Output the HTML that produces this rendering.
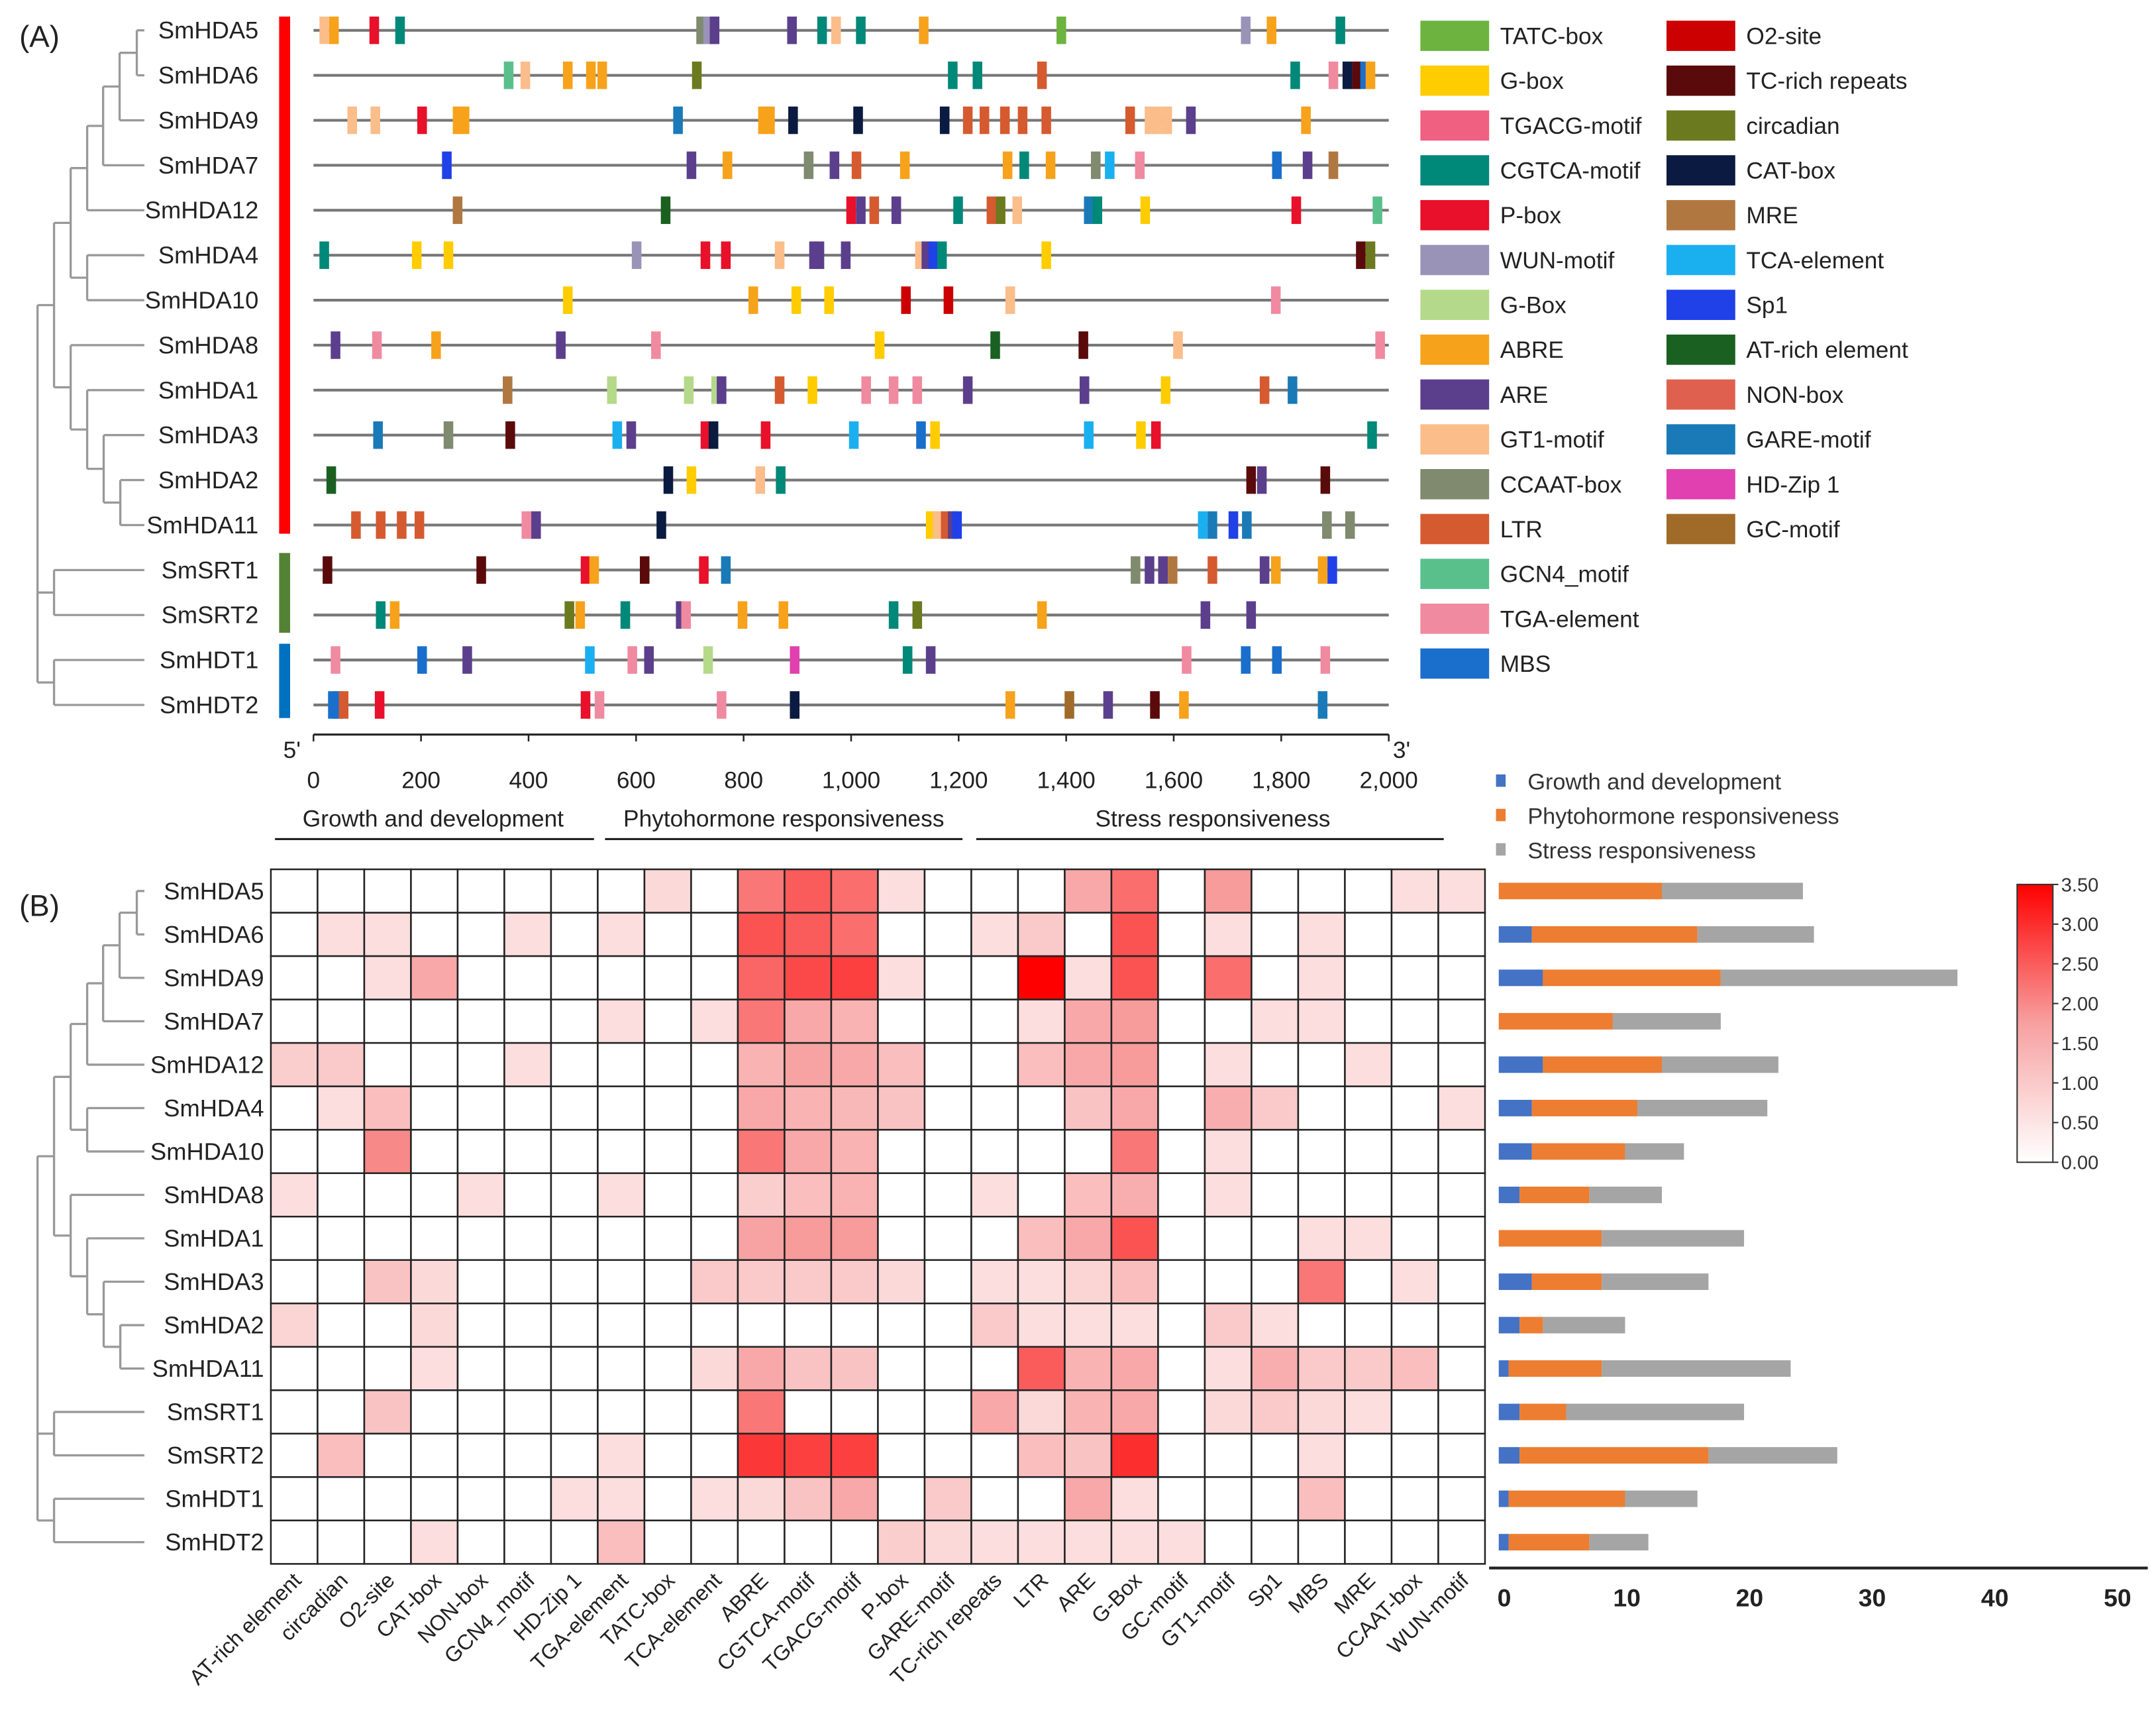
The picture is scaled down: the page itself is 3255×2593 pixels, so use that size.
<!DOCTYPE html>
<html><head><meta charset="utf-8"><style>
html,body{margin:0;padding:0;background:#fff}
svg{display:block;font-family:"Liberation Sans",Arial,sans-serif}
</style></head><body>
<svg id="root" xmlns="http://www.w3.org/2000/svg" width="3255" height="2593" viewBox="0 0 1568 1249">
<rect width="1568" height="1249" fill="#fff"/>
<text x="14" y="34" font-size="22" fill="#222">(A)</text>
<text x="14" y="666" font-size="22" fill="#222">(B)</text>
<g id="gA"></g>
<g id="gB"></g>
</svg>
<script>
const genes = ["SmHDA5","SmHDA6","SmHDA9","SmHDA7","SmHDA12","SmHDA4","SmHDA10","SmHDA8","SmHDA1","SmHDA3","SmHDA2","SmHDA11","SmSRT1","SmSRT2","SmHDT1","SmHDT2"];
const motifNames1 = ["TATC-box","G-box","TGACG-motif","CGTCA-motif","P-box","WUN-motif","G-Box","ABRE","ARE","GT1-motif","CCAAT-box","LTR","GCN4_motif","TGA-element","MBS"];
const motifColors1 = ["#6db33f","#ffcc00","#f06080","#008878","#e8102a","#9a93b8","#b5d98a","#f7a21b","#5b3f8c","#fbbd8a","#7f8a6e","#d65a30","#59c08c","#f08aa0","#1a6fcc"];
const motifNames2 = ["O2-site","TC-rich repeats","circadian","CAT-box","MRE","TCA-element","Sp1","AT-rich element","NON-box","GARE-motif","HD-Zip 1","GC-motif"];
const motifColors2 = ["#cc0000","#5a0a0a","#6b7a1e","#0a1a40","#b07840","#1ab0f0","#2040e8","#1a6020","#e06050","#1a7ab8","#e040b0","#a06a28"];
const C = {};
motifNames1.forEach((n,i)=>C[n]=motifColors1[i]);
motifNames2.forEach((n,i)=>C[n]=motifColors2[i]);
const motifs = [
 [[20,"GT1-motif"],[38,"ABRE"],[113,"P-box"],[161,"CGTCA-motif"],[721,"CCAAT-box"],[734,"WUN-motif"],[746,"ARE"],[890,"ARE"],[946,"CGTCA-motif"],[972,"GT1-motif"],[1018,"CGTCA-motif"],[1135,"ABRE"],[1391,"TATC-box"],[1734,"WUN-motif"],[1782,"ABRE"],[1910,"CGTCA-motif"]],
 [[363,"GCN4_motif"],[394,"GT1-motif"],[473,"ABRE"],[516,"ABRE"],[537,"ABRE"],[713,"circadian"],[1189,"CGTCA-motif"],[1235,"CGTCA-motif"],[1355,"LTR"],[1826,"CGTCA-motif"],[1897,"TGA-element"],[1923,"CAT-box"],[1941,"TC-rich repeats"],[1956,"MBS"],[1966,"ABRE"]],
 [[72,"GT1-motif"],[115,"GT1-motif"],[202,"P-box"],[268,"ABRE"],[281,"ABRE"],[678,"GARE-motif"],[836,"ABRE"],[849,"ABRE"],[892,"CAT-box"],[1013,"CAT-box"],[1174,"CAT-box"],[1217,"LTR"],[1248,"LTR"],[1286,"LTR"],[1319,"LTR"],[1363,"LTR"],[1519,"LTR"],[1555,"GT1-motif"],[1570,"GT1-motif"],[1588,"GT1-motif"],[1632,"ARE"],[1846,"ABRE"]],
 [[248,"Sp1"],[703,"ARE"],[770,"ABRE"],[921,"CCAAT-box"],[969,"ARE"],[1010,"LTR"],[1100,"ABRE"],[1291,"ABRE"],[1322,"CGTCA-motif"],[1371,"ABRE"],[1455,"CCAAT-box"],[1481,"TCA-element"],[1537,"TGA-element"],[1792,"MBS"],[1849,"ARE"],[1897,"MRE"]],
 [[268,"MRE"],[655,"AT-rich element"],[1000,"P-box"],[1018,"ARE"],[1043,"LTR"],[1084,"ARE"],[1199,"CGTCA-motif"],[1261,"LTR"],[1278,"circadian"],[1309,"GT1-motif"],[1442,"GARE-motif"],[1458,"CGTCA-motif"],[1547,"G-box"],[1828,"P-box"],[1979,"GCN4_motif"]],
 [[20,"CGTCA-motif"],[192,"G-box"],[251,"G-box"],[601,"WUN-motif"],[729,"P-box"],[767,"P-box"],[867,"GT1-motif"],[931,"ARE"],[941,"ARE"],[990,"ARE"],[1128,"GT1-motif"],[1140,"ARE"],[1153,"Sp1"],[1169,"CGTCA-motif"],[1363,"G-box"],[1948,"TC-rich repeats"],[1966,"circadian"]],
 [[473,"G-box"],[818,"ABRE"],[898,"G-box"],[959,"G-box"],[1102,"O2-site"],[1181,"O2-site"],[1296,"GT1-motif"],[1790,"TGA-element"]],
 [[41,"ARE"],[118,"TGA-element"],[228,"ABRE"],[460,"ARE"],[637,"TGA-element"],[1053,"G-box"],[1268,"AT-rich element"],[1432,"TC-rich repeats"],[1608,"GT1-motif"],[1984,"TGA-element"]],
 [[361,"MRE"],[555,"G-Box"],[698,"G-Box"],[749,"G-Box"],[759,"ARE"],[867,"LTR"],[928,"G-box"],[1028,"TGA-element"],[1079,"TGA-element"],[1123,"TGA-element"],[1217,"ARE"],[1434,"ARE"],[1585,"G-box"],[1769,"LTR"],[1821,"GARE-motif"]],
 [[120,"GARE-motif"],[251,"CCAAT-box"],[366,"TC-rich repeats"],[565,"TCA-element"],[591,"ARE"],[729,"P-box"],[744,"CAT-box"],[841,"P-box"],[1005,"TCA-element"],[1130,"MBS"],[1156,"G-box"],[1442,"TCA-element"],[1539,"G-box"],[1567,"P-box"],[1969,"CGTCA-motif"]],
 [[33,"AT-rich element"],[660,"CAT-box"],[703,"G-box"],[831,"GT1-motif"],[869,"CGTCA-motif"],[1744,"TC-rich repeats"],[1764,"ARE"],[1882,"TC-rich repeats"]],
 [[79,"LTR"],[125,"LTR"],[164,"LTR"],[197,"LTR"],[396,"TGA-element"],[414,"ARE"],[647,"CAT-box"],[1148,"G-box"],[1161,"GT1-motif"],[1176,"LTR"],[1189,"ARE"],[1197,"Sp1"],[1654,"TCA-element"],[1672,"GARE-motif"],[1711,"Sp1"],[1736,"GARE-motif"],[1885,"CCAAT-box"],[1928,"CCAAT-box"]],
 [[26,"TC-rich repeats"],[312,"TC-rich repeats"],[506,"P-box"],[522,"ABRE"],[616,"TC-rich repeats"],[726,"P-box"],[767,"GARE-motif"],[1529,"CCAAT-box"],[1555,"ARE"],[1580,"ARE"],[1598,"MRE"],[1672,"LTR"],[1769,"ARE"],[1790,"ABRE"],[1877,"ABRE"],[1895,"Sp1"]],
 [[125,"CGTCA-motif"],[151,"ABRE"],[476,"circadian"],[496,"ABRE"],[580,"CGTCA-motif"],[683,"ARE"],[693,"TGA-element"],[798,"ABRE"],[874,"ABRE"],[1079,"CGTCA-motif"],[1123,"circadian"],[1355,"ABRE"],[1659,"ARE"],[1744,"ARE"]],
 [[41,"TGA-element"],[202,"MBS"],[286,"ARE"],[514,"TCA-element"],[593,"TGA-element"],[624,"ARE"],[734,"G-Box"],[895,"HD-Zip 1"],[1105,"CGTCA-motif"],[1148,"ARE"],[1624,"TGA-element"],[1734,"MBS"],[1792,"MBS"],[1882,"TGA-element"]],
 [[36,"MBS"],[46,"MBS"],[56,"LTR"],[123,"P-box"],[506,"P-box"],[532,"TGA-element"],[759,"TGA-element"],[895,"CAT-box"],[1296,"ABRE"],[1406,"GC-motif"],[1478,"ARE"],[1565,"TC-rich repeats"],[1619,"ABRE"],[1877,"GARE-motif"]]
];
const xTicks = [0,200,400,600,800,1000,1200,1400,1600,1800,2000];
const xTickLabels = ["0","200","400","600","800","1,000","1,200","1,400","1,600","1,800","2,000"];

const hmCols = ["AT-rich element","circadian","O2-site","CAT-box","NON-box","GCN4_motif","HD-Zip 1","TGA-element","TATC-box","TCA-element","ABRE","CGTCA-motif","TGACG-motif","P-box","GARE-motif","TC-rich repeats","LTR","ARE","G-Box","GC-motif","GT1-motif","Sp1","MBS","MRE","CCAAT-box","WUN-motif"];
const hmVals = [
[0,0,0,0,0,0,0,0,0.7,0,2.2,2.5,2.3,0.6,0,0,0,1.6,2.3,0,1.8,0,0,0,0.6,0.6],
[0,0.6,0.6,0,0,0.6,0,0.6,0,0,2.6,2.5,2.3,0,0,0.6,1,0,2.6,0,0.6,0,0.6,0,0,0],
[0,0,0.6,1.6,0,0,0,0,0,0,2.4,2.7,2.8,0.6,0,0,3.5,0.6,2.6,0,2.3,0,0.6,0,0,0],
[0,0,0,0,0,0,0,0.6,0,0.6,2.2,1.6,1.4,0,0,0,0.6,1.6,1.8,0,0,0.6,0.6,0,0,0],
[0.9,1.0,0,0,0,0.6,0,0,0,0,1.4,1.7,1.6,1.2,0,0,1.2,1.6,1.8,0,0.6,0,0,0.6,0,0],
[0,0.6,1.2,0,0,0,0,0,0,0,1.6,1.4,1.3,1.1,0,0,0,1.1,1.6,0,1.5,1.0,0,0,0,0.6],
[0,0,2.0,0,0,0,0,0,0,0,2.2,1.6,1.4,0,0,0,0,0,2.2,0,0.6,0,0,0,0,0],
[0.6,0,0,0,0.6,0,0,0.6,0,0,0.9,1.2,1.4,0,0,0.6,0,1.2,1.5,0,0.6,0,0,0,0,0],
[0,0,0,0,0,0,0,0,0,0,1.7,1.8,1.8,0,0,0,1.2,1.6,2.6,0,0,0,0.6,0.6,0,0],
[0,0,1.1,0.7,0,0,0,0,0,1.0,1.0,1.0,1.0,0.7,0,0.6,0.6,0.8,1.2,0,0,0,2.2,0,0.6,0],
[0.8,0,0,0.7,0,0,0,0,0,0,0,0,0,0,0,1.0,0.6,0.6,0.6,0,1.0,0.6,0,0,0,0],
[0,0,0,0.6,0,0,0,0,0,0.7,1.6,1.1,1.1,0,0,0,2.5,1.4,1.6,0,0.6,1.5,1.0,1.0,1.2,0],
[0,0,1.1,0,0,0,0,0,0,0,2.2,0,0,0,0,1.6,0.7,1.4,1.6,0,0.7,1.0,0.7,0.6,0,0],
[0,1.2,0,0,0,0,0,0.6,0,0,2.9,2.8,2.8,0,0,0,1.2,1.1,3.0,0,0,0,0.6,0,0,0],
[0,0,0,0,0,0,0.6,0.6,0,0.6,0.7,1.1,1.6,0,1.0,0,0,1.6,0.6,0,0,0,1.2,0,0,0],
[0,0,0,0.6,0,0,0,1.2,0,0,0,0,0,0.9,0.7,0.6,0.6,0.6,0.6,0.6,0,0,0,0,0,0]];
const growth = [0,2.7,3.6,0,3.6,2.7,2.7,1.7,0,2.7,1.7,0.8,1.7,1.7,0.8,0.8];
const phyto = [13.3,13.5,14.5,9.3,9.7,8.6,7.6,5.7,8.4,5.7,1.9,7.6,3.8,15.4,9.5,6.6];
const stress = [11.5,9.5,19.3,8.8,9.5,10.6,4.8,5.9,11.6,8.7,6.7,15.4,14.5,10.5,5.9,4.8];
const barTicks = [0,10,20,30,40,50];
const scaleTicks = [0,0.5,1,1.5,2,2.5,3,3.5];

const NS="http://www.w3.org/2000/svg";
function mk(parent,tag,attrs,txt){const e=document.createElementNS(NS,tag);for(const k in attrs)e.setAttribute(k,attrs[k]);if(txt!==undefined)e.textContent=txt;parent.appendChild(e);return e;}
const gA=document.getElementById('gA'), gB=document.getElementById('gB');

const rowYA = i => 22 + i*32.7;
const xA = v => 228 + v*(782/2000);
genes.forEach((g,i)=>{
  const y=rowYA(i);
  let t=mk(gA,'text',{x:188,y:y+6,'font-size':17.5,'text-anchor':'end',fill:'#222'},g);
  
  
  let l=mk(gA,'line',{x1:228,x2:1010,y1:y,y2:y,stroke:'#777','stroke-width':2});
  
  
  motifs[i].forEach(m=>{
    let r=mk(gA,'rect',{x:xA(m[0])-3.5,y:y-10,width:7,height:20,fill:C[m[1]]});
    
    
  });
});
[[12,388,'#ff0000'],[402,460,'#548235'],[468,522,'#0070c0']].forEach(b=>{
  let r=mk(gA,'rect',{x:203,y:b[0],width:8,height:b[1]-b[0],fill:b[2]});
  
  
});
function tree(g,rowY,leafX){
  const Y=rowY;
  const segs=[];
  function node(x,ya,yb){segs.push([x,ya,x,yb]);}
  function br(x1,y,x2){segs.push([x1,y,x2,y]);}
  const n56=[99.5,(Y(0)+Y(1))/2];node(99.5,Y(0),Y(1));br(99.5,Y(0),leafX);br(99.5,Y(1),leafX);
  const n9=[87,(n56[1]+Y(2))/2];node(87,n56[1],Y(2));br(87,n56[1],99.5);br(87,Y(2),leafX);
  const n7=[75,(n9[1]+Y(3))/2];node(75,n9[1],Y(3));br(75,n9[1],87);br(75,Y(3),leafX);
  const n12=[63.4,(n7[1]+Y(4))/2];node(63.4,n7[1],Y(4));br(63.4,n7[1],75);br(63.4,Y(4),leafX);
  const n410=[63.4,(Y(5)+Y(6))/2];node(63.4,Y(5),Y(6));br(63.4,Y(5),leafX);br(63.4,Y(6),leafX);
  const nA=[51.4,(n12[1]+n410[1])/2];node(51.4,n12[1],n410[1]);br(51.4,n12[1],63.4);br(51.4,n410[1],63.4);
  const n211=[87.5,(Y(10)+Y(11))/2];node(87.5,Y(10),Y(11));br(87.5,Y(10),leafX);br(87.5,Y(11),leafX);
  const n3=[75.4,(Y(9)+n211[1])/2];node(75.4,Y(9),n211[1]);br(75.4,Y(9),leafX);br(75.4,n211[1],87.5);
  const n1=[63.4,(Y(8)+n3[1])/2];node(63.4,Y(8),n3[1]);br(63.4,Y(8),leafX);br(63.4,n3[1],75.4);
  const n8=[51.4,(Y(7)+n1[1])/2];node(51.4,Y(7),n1[1]);br(51.4,Y(7),leafX);br(51.4,n1[1],63.4);
  const nH=[39.3,(nA[1]+n8[1])/2];node(39.3,nA[1],n8[1]);br(39.3,nA[1],51.4);br(39.3,n8[1],51.4);
  const nS=[39.3,(Y(12)+Y(13))/2];node(39.3,Y(12),Y(13));br(39.3,Y(12),leafX);br(39.3,Y(13),leafX);
  const nT=[39.3,(Y(14)+Y(15))/2];node(39.3,Y(14),Y(15));br(39.3,Y(14),leafX);br(39.3,Y(15),leafX);
  node(27.3,nH[1],nT[1]);br(27.3,nH[1],39.3);br(27.3,nS[1],39.3);br(27.3,nT[1],39.3);
  segs.forEach(s=>{
    let l=mk(g,'line',{x1:s[0],y1:s[1],x2:s[2],y2:s[3],stroke:'#999','stroke-width':1.6});
    
    
  });
}
tree(gA,rowYA,105);
mk(gA,'line',{x1:228,x2:1010,y1:534,y2:534,stroke:'#222','stroke-width':1.5});
xTicks.forEach((v,i)=>{
  mk(gA,'line',{x1:xA(v),x2:xA(v),y1:534,y2:539,stroke:'#222','stroke-width':1.2});
  let t=mk(gA,'text',{x:xA(v),y:573,'font-size':17,'text-anchor':'middle',fill:'#222'},xTickLabels[i]);
  
  
});
mk(gA,'text',{x:206,y:551,'font-size':17,fill:'#222'},"5'");
mk(gA,'text',{x:1013,y:551,'font-size':17,fill:'#222'},"3'");
[[200,432,315,"Growth and development"],[440,700,570,"Phytohormone responsiveness"],[710,1050,882,"Stress responsiveness"]].forEach(c=>{
  mk(gA,'line',{x1:c[0],x2:c[1],y1:610,y2:610,stroke:'#222','stroke-width':1.5});
  let t=mk(gA,'text',{x:c[2],y:601,'font-size':17,'text-anchor':'middle',fill:'#222'},c[3]);
  
  
});
motifNames1.forEach((n,i)=>{
  const y=26+i*32.6;
  let r=mk(gA,'rect',{x:1033,y:y-11,width:50,height:22,fill:motifColors1[i]});
  
  
  let t=mk(gA,'text',{x:1091,y:y+6,'font-size':17,fill:'#222'},n);
  
  
});
motifNames2.forEach((n,i)=>{
  const y=26+i*32.6;
  let r=mk(gA,'rect',{x:1212,y:y-11,width:50,height:22,fill:motifColors2[i]});
  
  
  let t=mk(gA,'text',{x:1270,y:y+6,'font-size':17,fill:'#222'},n);
  
  
});

const hx0=197, hy0=632, cw=(1080-197)/26, ch=(1137-632)/16;
function heatColor(v){
  const t=Math.max(0,Math.min(1,v/3.5));
  let g,b,r=255;
  if(t<0.5){const u=t/0.5;g=255-u*(255-160);b=g;r=255-u*8;}
  else{const u=(t-0.5)/0.5;g=160-u*160;b=g;r=247+u*8;}
  return `rgb(${Math.round(r)},${Math.round(g)},${Math.round(b)})`;
}
hmVals.forEach((row,i)=>{
  row.forEach((v,j)=>{
    let r=mk(gB,'rect',{x:hx0+j*cw,y:hy0+i*ch,width:cw,height:ch,fill:heatColor(v),stroke:'#222','stroke-width':1.2});
    
    
  });
  let t=mk(gB,'text',{x:192,y:hy0+(i+0.5)*ch+6,'font-size':17.5,'text-anchor':'end',fill:'#222'},genes[i]);
  
  
});
hmCols.forEach((c,j)=>{
  const x=hx0+(j+0.5)*cw+6, y=1150;
  let t=mk(gB,'text',{x:x,y:y,'font-size':15.5,'text-anchor':'end',fill:'#222',transform:`rotate(-45 ${x} ${y})`},c);
  
  
});
tree(gB,i=>hy0+(i+0.5)*ch,105);

const bx=v=>1090+v*8.92;
genes.forEach((g,i)=>{
  const y=hy0+(i+0.5)*ch-6;
  const parts=[[0,growth[i],'#4472c4','bar-growth'],[growth[i],growth[i]+phyto[i],'#ed7d31','bar-phytohormone'],[growth[i]+phyto[i],growth[i]+phyto[i]+stress[i],'#a5a5a5','bar-stress']];
  parts.forEach(p=>{
    if(p[1]<=p[0])return;
    let r=mk(gB,'rect',{x:bx(p[0]),y:y,width:bx(p[1])-bx(p[0]),height:12,fill:p[2]});
    
    
  });
});
mk(gB,'line',{x1:1083,x2:1562,y1:1140,y2:1140,stroke:'#222','stroke-width':2});
barTicks.forEach(v=>{
  let t=mk(gB,'text',{x:bx(v)+4,y:1168,'font-size':18,'font-weight':'bold','text-anchor':'middle',fill:'#222'},String(v));
  
  
});
[['#4472c4','Growth and development'],['#ed7d31','Phytohormone responsiveness'],['#a5a5a5','Stress responsiveness']].forEach((l,i)=>{
  const y=568+i*25;
  mk(gB,'rect',{x:1088,y:y-5,width:7,height:9,fill:l[0]});
  let t=mk(gB,'text',{x:1111,y:y+6,'font-size':16.5,fill:'#333'},l[1]);
  
  
});
const defs=mk(gB,'defs',{});
const lg=mk(defs,'linearGradient',{id:'cs',x1:0,y1:1,x2:0,y2:0});
[0,0.25,0.5,0.75,1].forEach(t=>mk(lg,'stop',{offset:t,'stop-color':heatColor(t*3.5)}));
const csy=v=>845-v*(202/3.5);
let cs=mk(gB,'rect',{x:1467,y:643,width:26,height:202,fill:'url(#cs)',stroke:'#333','stroke-width':1});


scaleTicks.forEach(v=>{
  mk(gB,'line',{x1:1493,x2:1497,y1:csy(v),y2:csy(v),stroke:'#333'});
  let t=mk(gB,'text',{x:1499,y:csy(v)+5,'font-size':14,fill:'#333'},v.toFixed(2));
  
  
});
</script>
</body></html>
